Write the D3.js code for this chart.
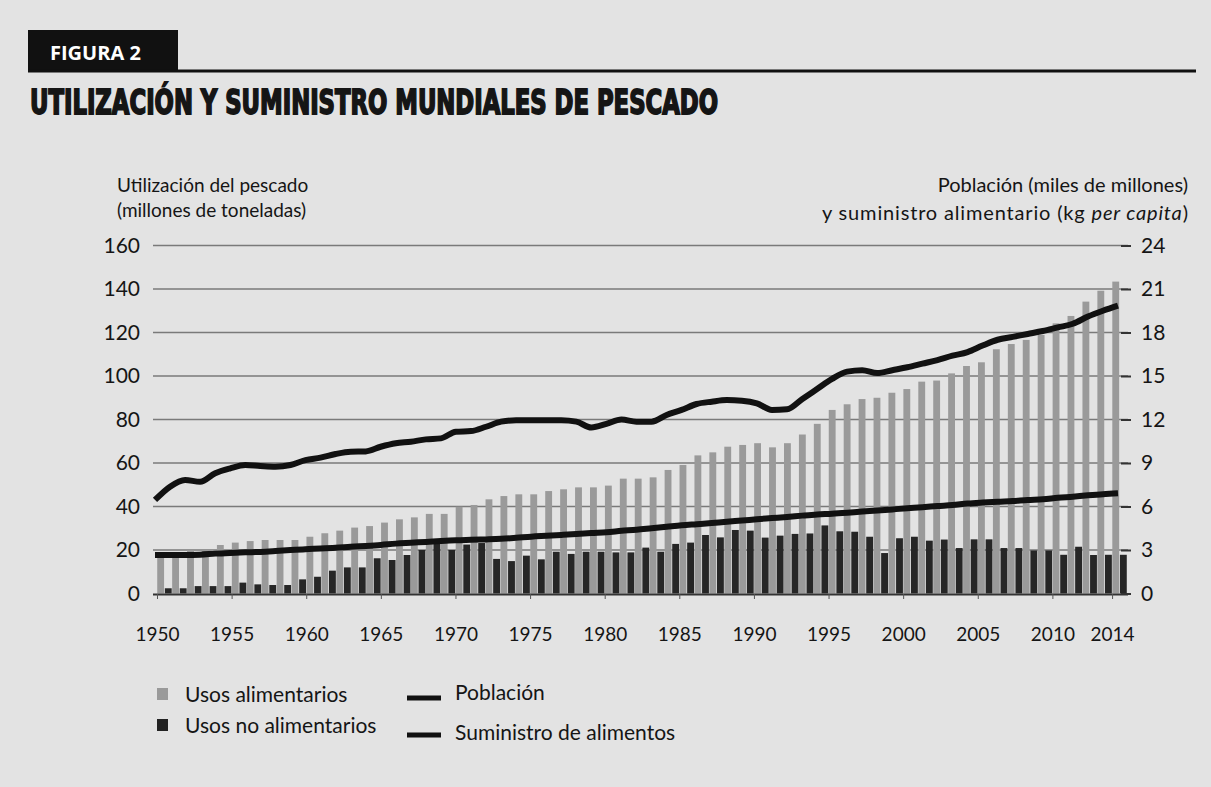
<!DOCTYPE html>
<html>
<head>
<meta charset="utf-8">
<script src="https://cdn.jsdelivr.net/npm/d3@7"></script>
<style>
  body { margin: 0; background: #e3e3e3; }
  svg { display: block; }
  text { font-family: Lato, "Open Sans", sans-serif; fill: #151515; }
</style>
</head>
<body>
<div class="container"></div>
<script>
// years on the x axis
const years = d3.range(1950, 2015)
const yearTicks = [1950, 1955, 1960, 1965, 1970, 1975, 1980, 1985, 1990, 1995, 2000, 2005, 2010, 2014]

// millones de toneladas
const usosAlimentarios = [
  18.6, 17.0, 20.0, 20.0, 22.3, 23.4, 24.1, 24.6, 24.6, 24.6,
  26.1, 27.7, 28.9, 30.3, 31.0, 32.6, 34.1, 35.0, 36.6, 36.6,
  39.9, 40.7, 43.3, 44.8, 45.6, 45.6, 47.1, 47.9, 48.8, 48.8,
  49.6, 52.8, 52.8, 53.4, 56.8, 59.1, 63.5, 64.9, 67.5, 68.3,
  69.1, 67.2, 69.1, 73.1, 78.0, 84.4, 87.0, 89.4, 90.0, 92.3,
  94.0, 97.4, 97.9, 101.2, 104.6, 106.3, 112.3, 114.7, 116.6, 118.9,
  124.2, 127.6, 134.2, 139.2, 143.4
]
const usosNoAlimentarios = [
  2.4, 2.4, 3.4, 3.4, 3.4, 5.0, 4.2, 3.9, 3.9, 6.5,
  7.7, 10.5, 12.0, 12.0, 16.2, 15.4, 17.7, 20.0, 23.0, 20.0,
  22.5, 23.2, 15.9, 14.9, 17.4, 15.7, 19.2, 18.2, 19.2, 19.2,
  18.9, 18.9, 21.1, 19.2, 22.8, 23.4, 26.9, 25.8, 29.2, 28.9,
  25.7, 26.6, 27.4, 27.6, 31.3, 28.6, 28.4, 26.1, 18.6, 25.4,
  26.1, 24.3, 24.8, 20.9, 24.9, 24.9, 20.9, 20.9, 19.8, 19.8,
  17.8, 21.5, 17.7, 17.8, 17.8
]

// miles de millones
const poblacion = [
  2.66, 2.66, 2.66, 2.68, 2.75, 2.80, 2.84, 2.87, 2.93, 3.00,
  3.06, 3.10, 3.15, 3.22, 3.28, 3.35, 3.44, 3.50, 3.56, 3.62,
  3.67, 3.70, 3.73, 3.77, 3.84, 3.92, 3.98, 4.04, 4.10, 4.17,
  4.23, 4.32, 4.40, 4.50, 4.60, 4.70, 4.78, 4.86, 4.95, 5.03,
  5.12, 5.20, 5.28, 5.37, 5.45, 5.50, 5.57, 5.65, 5.72, 5.80,
  5.88, 5.95, 6.03, 6.10, 6.20, 6.27, 6.33, 6.38, 6.45, 6.50,
  6.60, 6.68, 6.77, 6.85, 6.91
]
// kg per capita
const suministro = [
  6.45, 7.37, 7.83, 7.70, 8.29, 8.63, 8.86, 8.79, 8.74, 8.86,
  9.20, 9.37, 9.62, 9.78, 9.80, 10.12, 10.36, 10.47, 10.63, 10.70,
  11.16, 11.20, 11.50, 11.85, 11.95, 11.95, 11.95, 11.95, 11.85, 11.45,
  11.70, 12.00, 11.85, 11.85, 12.31, 12.66, 13.07, 13.23, 13.34, 13.30,
  13.12, 12.66, 12.70, 13.40, 14.10, 14.80, 15.30, 15.40, 15.20, 15.40,
  15.60, 15.85, 16.10, 16.40, 16.65, 17.10, 17.50, 17.70, 17.90, 18.10,
  18.35, 18.60, 19.10, 19.50, 19.85
]

const leftTicks = [0, 20, 40, 60, 80, 100, 120, 140, 160]
const rightTicks = [0, 3, 6, 9, 12, 15, 18, 21, 24]

const svg = d3.select(".container")
              .append("svg")
              .attr("width", 1211)
              .attr("height", 787)

svg.append("rect").attr("width", 1211).attr("height", 787).attr("fill", "#e3e3e3")

// header
svg.append("rect").attr("x", 28).attr("y", 30).attr("width", 150).attr("height", 42).attr("fill", "#111")
svg.append("text").attr("x", 50).attr("y", 60)
   .style("font-family", "'Open Sans', Lato, sans-serif")
   .style("font-weight", 700).style("font-size", "20px").style("fill", "#fff")
   .text("FIGURA 2")
svg.append("line").attr("x1", 28).attr("x2", 1196).attr("y1", 71).attr("y2", 71)
   .attr("stroke", "#111").attr("stroke-width", 3)
svg.append("text").attr("x", 30).attr("y", 114)
   .attr("textLength", 688).attr("lengthAdjust", "spacingAndGlyphs")
   .style("font-family", "'Liberation Sans Narrow', 'DejaVu Sans Condensed', sans-serif")
   .style("font-weight", 700).style("font-size", "34px")
   .style("stroke", "#151515").style("stroke-width", 1.8)
   .text("UTILIZACIÓN Y SUMINISTRO MUNDIALES DE PESCADO")

// scales
const x = d3.scaleBand().domain(years).range([157, 1127])
const bw = x.bandwidth()
const sub = d3.scaleBand().domain(["food", "nonfood"]).range([0, bw]).paddingInner(0.1).paddingOuter(0.03)
const xl = d3.scaleLinear().domain([1950, 2014]).range([155, 1118])
const yL = d3.scaleLinear().domain([0, 160]).range([593.5, 245.5])
const yR = d3.scaleLinear().domain([0, 24]).range([593.5, 245.5])

// gridlines
svg.append("g").selectAll("line").data(leftTicks.slice(1)).enter().append("line")
   .attr("x1", 153).attr("x2", 1128)
   .attr("y1", d => yL(d)).attr("y2", d => yL(d))
   .attr("stroke", "#7a7a7a").attr("stroke-width", 1.5)

// bars
const groups = svg.append("g").selectAll("g").data(years).enter().append("g")
                  .attr("transform", d => "translate(" + x(d) + ",0)")
groups.append("rect")
      .attr("x", sub("food")).attr("width", sub.bandwidth())
      .attr("y", (d, i) => yL(usosAlimentarios[i]))
      .attr("height", (d, i) => yL(0) - yL(usosAlimentarios[i]))
      .attr("fill", "#9a9a9a")
groups.append("rect")
      .attr("x", sub("nonfood")).attr("width", sub.bandwidth())
      .attr("y", (d, i) => yL(usosNoAlimentarios[i]))
      .attr("height", (d, i) => yL(0) - yL(usosNoAlimentarios[i]))
      .attr("fill", "#262626")

// left axis
const leftAxis = d3.axisLeft(yL).tickValues(leftTicks).tickSize(0).tickPadding(0)
const gl = svg.append("g").attr("transform", "translate(140,0)").call(leftAxis)
gl.select(".domain").remove()
gl.selectAll("text").style("font-family", "Lato, sans-serif").style("font-size", "21px").attr("fill", "#151515")

// right axis
const rightAxis = d3.axisRight(yR).tickValues(rightTicks).tickSize(10).tickPadding(10)
const gr = svg.append("g").attr("transform", "translate(1121,0)").call(rightAxis)
gr.select(".domain").remove()
gr.selectAll("line").attr("stroke", "#333").attr("stroke-width", 2)
gr.selectAll("text").style("font-family", "Lato, sans-serif").style("font-size", "21px").attr("fill", "#151515")

// x axis
const xAxis = d3.axisBottom(x).tickValues(yearTicks).tickSize(5).tickPadding(29)
const gx = svg.append("g").attr("transform", "translate(0,594)").call(xAxis)
gx.select(".domain").attr("d", "M153,0.5H1128").attr("stroke", "#333").attr("stroke-width", 2)
gx.selectAll(".tick").attr("transform", d => "translate(" + (x(d) + 0.5) + ",0)")
gx.selectAll("line").attr("stroke", "#555")
gx.selectAll("text").style("font-family", "Lato, sans-serif").style("font-size", "19px").attr("fill", "#151515")

// lines
const popLine = d3.line().x((d, i) => xl(years[i])).y(d => yR(d)).curve(d3.curveMonotoneX)
svg.append("path").datum(poblacion).attr("d", popLine)
   .attr("fill", "none").attr("stroke", "#111").attr("stroke-width", 6).attr("stroke-linejoin", "round")
svg.append("path").datum(suministro).attr("d", popLine)
   .attr("fill", "none").attr("stroke", "#111").attr("stroke-width", 6).attr("stroke-linejoin", "round")

// axis titles
const at = svg.append("g").style("font-size", "19px")
at.append("text").attr("x", 117).attr("y", 192).text("Utilización del pescado")
at.append("text").attr("x", 117).attr("y", 217).text("(millones de toneladas)")
at.append("text").attr("x", 1188).attr("y", 192).attr("text-anchor", "end")
  .style("font-size", "20px").text("Población (miles de millones)")
const rt = at.append("text").attr("x", 1188).attr("y", 220).attr("text-anchor", "end")
  .style("font-size", "20px").attr("textLength", 366)
rt.append("tspan").text("y suministro alimentario (kg ")
rt.append("tspan").style("font-style", "italic").text("per capita")
rt.append("tspan").text(")")

// legend
const lg = svg.append("g").style("font-size", "21px")
lg.append("rect").attr("x", 157).attr("y", 688).attr("width", 11).attr("height", 12).attr("fill", "#9a9a9a")
lg.append("rect").attr("x", 157).attr("y", 719).attr("width", 11).attr("height", 12).attr("fill", "#222")
lg.append("text").attr("x", 185).attr("y", 702).text("Usos alimentarios")
lg.append("text").attr("x", 185).attr("y", 733).text("Usos no alimentarios")
lg.append("line").attr("x1", 407).attr("x2", 441).attr("y1", 698).attr("y2", 698).attr("stroke", "#111").attr("stroke-width", 5)
lg.append("line").attr("x1", 407).attr("x2", 441).attr("y1", 735).attr("y2", 735).attr("stroke", "#111").attr("stroke-width", 5)
lg.append("text").attr("x", 455).attr("y", 700).text("Población")
lg.append("text").attr("x", 455).attr("y", 740).text("Suministro de alimentos")
</script>
</body>
</html>
